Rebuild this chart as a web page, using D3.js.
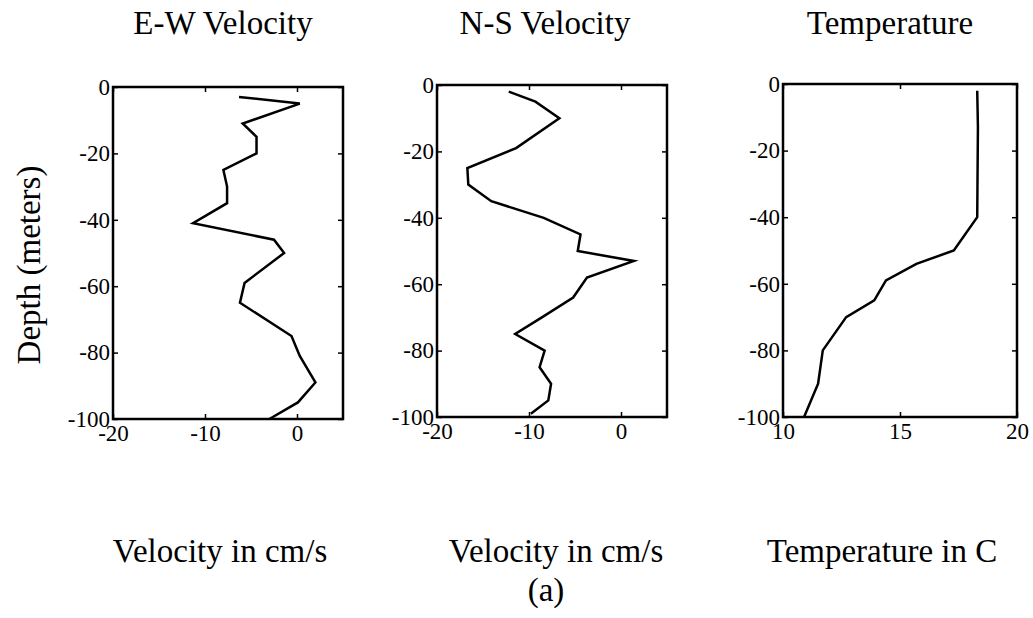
<!DOCTYPE html>
<html>
<head>
<meta charset="utf-8">
<script src="https://cdn.jsdelivr.net/npm/d3@7"></script>
<style>
  body { margin: 0; background: #fff; }
  svg { display: block; }
  text { font-family: "Liberation Serif", "Times New Roman", serif; fill: #000; }
</style>
</head>
<body>
<svg width="1033" height="618"></svg>
<script>
// values
const ewDepth = [-3, -5, -11, -15, -20, -25, -30, -35, -41, -46, -50, -59, -65, -75, -81, -89, -95, -100]
const ewVel = [-6.3, 0.3, -5.9, -4.4, -4.4, -8.0, -7.6, -7.6, -11.3, -2.5, -1.4, -5.7, -6.2, -0.6, 0.3, 2.0, 0.1, -3.0]

const nsDepth = [-2, -5, -10, -19, -25, -30, -35, -40, -45, -50, -53, -58, -64, -70, -75, -80, -85, -90, -95, -99]
const nsVel = [-12.2, -9.3, -6.7, -11.4, -16.7, -16.6, -14.1, -8.4, -4.4, -4.7, 1.4, -3.7, -5.2, -8.6, -11.5, -8.3, -8.85, -7.6, -7.9, -9.8]

const tempDepth = [-2, -13, -40, -50, -54, -59, -65, -70, -80, -90, -100]
const tempC = [18.3, 18.33, 18.3, 17.3, 15.7, 14.4, 13.9, 12.7, 11.7, 11.5, 10.9]

const depthTicks = [0, -20, -40, -60, -80, -100]
const velTicks = [-20, -10, 0]
const tempTicks = [10, 15, 20]

const titles = ['E-W Velocity', 'N-S Velocity', 'Temperature']
const xLabels = ['Velocity in cm/s', 'Velocity in cm/s', 'Temperature in C']

const svg = d3.select('svg')

// plain hyphen for negatives, like the original
const fmt = d => String(d)

// one entry per subplot
const panels = [
  { left: 113, right: 343, top: 87, bottom: 419, xDomain: [-20, 5], xTicks: velTicks, xs: ewVel, ys: ewDepth, titleX: 223, labelX: 220 },
  { left: 437, right: 667, top: 85, bottom: 417, xDomain: [-20, 5], xTicks: velTicks, xs: nsVel, ys: nsDepth, titleX: 545, labelX: 556 },
  { left: 783, right: 1017, top: 84, bottom: 417, xDomain: [10, 20], xTicks: tempTicks, xs: tempC, ys: tempDepth, titleX: 890, labelX: 882 }
]

panels.forEach((p, k) => {
  const x = d3.scaleLinear().domain(p.xDomain).range([p.left, p.right])
  const y = d3.scaleLinear().domain([-100, 0]).range([p.bottom, p.top])

  const g = svg.append('g')

  // inward ticks on all four sides, labels only left and bottom
  const tick = 5
  g.append('g')
    .attr('transform', `translate(0,${p.bottom})`)
    .call(d3.axisBottom(x).tickValues(p.xTicks).tickFormat(fmt).tickSizeInner(-tick).tickSizeOuter(0).tickPadding(6))
  g.append('g')
    .attr('transform', `translate(0,${p.top})`)
    .call(d3.axisTop(x).tickValues(p.xTicks).tickFormat('').tickSizeInner(-tick).tickSizeOuter(0))
  g.append('g')
    .attr('transform', `translate(${p.left},0)`)
    .call(d3.axisLeft(y).tickValues(depthTicks).tickFormat(fmt).tickSizeInner(-tick).tickSizeOuter(0).tickPadding(3))
  g.append('g')
    .attr('transform', `translate(${p.right},0)`)
    .call(d3.axisRight(y).tickValues(depthTicks).tickFormat('').tickSizeInner(-tick).tickSizeOuter(0))

  g.selectAll('.domain').remove()
  g.selectAll('.tick line').attr('stroke', '#000').attr('stroke-width', 1.5)
  g.selectAll('.tick text')
    .attr('font-family', '"Liberation Serif", serif')
    .attr('font-size', 23)
    .attr('fill', '#000')

  // box
  g.append('rect')
    .attr('x', p.left)
    .attr('y', p.top)
    .attr('width', p.right - p.left)
    .attr('height', p.bottom - p.top)
    .attr('fill', 'none')
    .attr('stroke', '#000')
    .attr('stroke-width', 2.5)

  const line = d3.line()
    .x(d => x(d[0]))
    .y(d => y(d[1]))

  g.append('path')
    .datum(d3.zip(p.xs, p.ys))
    .attr('d', line)
    .attr('fill', 'none')
    .attr('stroke', '#000')
    .attr('stroke-width', 2.5)
    .attr('stroke-linejoin', 'miter')

  svg.append('text')
    .attr('x', p.titleX)
    .attr('y', 34)
    .attr('text-anchor', 'middle')
    .attr('font-size', 33)
    .text(titles[k])

  svg.append('text')
    .attr('x', p.labelX)
    .attr('y', 562)
    .attr('text-anchor', 'middle')
    .attr('font-size', 33)
    .text(xLabels[k])
})

svg.append('text')
  .attr('transform', 'translate(40,265) rotate(-90)')
  .attr('text-anchor', 'middle')
  .attr('font-size', 33)
  .text('Depth (meters)')

svg.append('text')
  .attr('x', 546)
  .attr('y', 601)
  .attr('text-anchor', 'middle')
  .attr('font-size', 33)
  .text('(a)')
</script>
</body>
</html>
